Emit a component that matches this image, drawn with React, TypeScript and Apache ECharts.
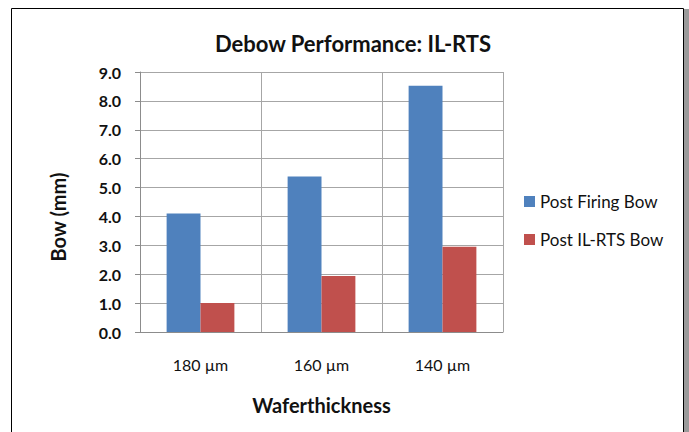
import React, { useEffect, useRef } from "react";
import * as echarts from "echarts";

const categories = ["180 µm", "160 µm", "140 µm"];
const postFiringBow = [4.1, 5.38, 8.52];
const postILRTSBow = [1.0, 1.94, 2.95];
const seriesNames = ["Post Firing Bow", "Post IL-RTS Bow"];
const titleText = "Debow Performance: IL-RTS";
const yAxisName = "Bow (mm)";
const xAxisName = "Waferthickness";

export default function App() {
  const ref = useRef<HTMLDivElement>(null);
  useEffect(() => {
    if (!ref.current) return;
    const chart = echarts.init(ref.current, null, { renderer: "svg" });
    const font = "Lato, 'Open Sans', sans-serif";
    chart.setOption({
      animation: false,
      backgroundColor: "#ffffff",
      textStyle: { fontFamily: font },
      title: {
        text: titleText,
        left: 348,
        top: 27,
        textAlign: "center",
        textStyle: { fontFamily: font, fontSize: 22, fontWeight: "bold", color: "#111" },
      },
      legend: {
        orient: "vertical",
        left: 519,
        top: 188,
        itemWidth: 11,
        itemHeight: 11,
        itemGap: 21,
        icon: "rect",
        textStyle: { fontFamily: font, fontSize: 17, color: "#111" },
        data: seriesNames,
      },
      grid: { left: 140, right: 186, top: 72, bottom: 100, containLabel: false },
      xAxis: {
        type: "category",
        data: categories,
        axisLine: { show: true, lineStyle: { color: "#8c8c8c", width: 1 } },
        axisTick: { show: false },
        splitLine: { show: true, lineStyle: { color: "#a6a6a6", width: 1 } },
        axisLabel: { margin: 24, fontFamily: font, fontSize: 16, color: "#111" },
        name: xAxisName,
        nameLocation: "middle",
        nameGap: 63,
        nameTextStyle: { fontFamily: font, fontSize: 20, fontWeight: "bold", color: "#111" },
      },
      yAxis: {
        type: "value",
        min: 0,
        max: 9,
        interval: 1,
        axisLine: { show: true, lineStyle: { color: "#8c8c8c", width: 1 } },
        axisTick: { show: true, length: 5, lineStyle: { color: "#8c8c8c" } },
        splitLine: { show: true, lineStyle: { color: "#a6a6a6", width: 1 } },
        axisLabel: {
          margin: 19,
          fontFamily: font,
          fontSize: 16,
          fontWeight: "bold",
          color: "#111",
          formatter: (v: number) => v.toFixed(1),
        },
      },
      series: [
        {
          name: seriesNames[0],
          type: "bar",
          data: postFiringBow,
          barGap: "0%",
          barCategoryGap: "44%",
          itemStyle: { color: "#4f81bd" },
        },
        {
          name: seriesNames[1],
          type: "bar",
          data: postILRTSBow,
          barGap: "0%",
          barCategoryGap: "44%",
          itemStyle: { color: "#c0504d" },
        },
      ],
      graphic: [
        {
          type: "text",
          silent: true,
          x: 58,
          y: 217,
          rotation: Math.PI / 2,
          style: {
            text: yAxisName,
            fontFamily: font,
            fontSize: 20,
            fontWeight: "bold",
            fill: "#111",
            align: "center",
            verticalAlign: "middle",
          },
        },
        {
          type: "rect",
          silent: true,
          shape: { x: 11.5, y: 8.5, width: 672, height: 440 },
          style: { fill: "none", stroke: "#000", lineWidth: 1 },
        },
        {
          type: "rect",
          silent: true,
          shape: { x: 684, y: 9, width: 5, height: 423 },
          style: { fill: "#9a9a9a" },
        },
      ],
    });
    return () => chart.dispose();
  }, []);
  return (
    <div
      ref={ref}
      style={{ position: "absolute", left: 0, top: 0, width: 689, height: 432 }}
    />
  );
}
